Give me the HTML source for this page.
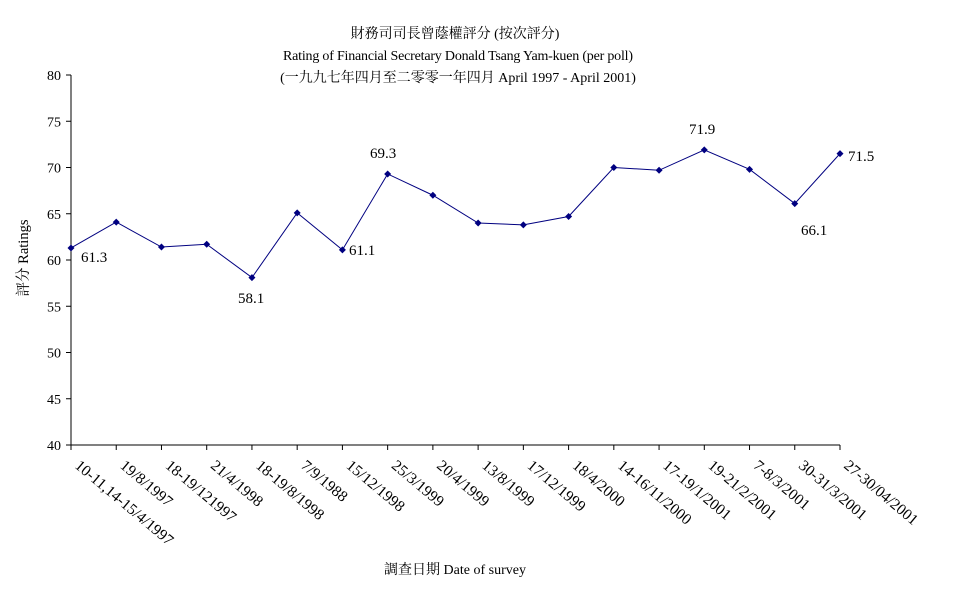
<!DOCTYPE html>
<html><head><meta charset="utf-8"><style>body{margin:0;background:#fff}</style></head><body>
<svg width="977" height="600" xmlns="http://www.w3.org/2000/svg" font-family="'Liberation Serif','Noto Serif CJK SC',serif" font-size="14">
<rect width="977" height="600" fill="#fff"/>
<text x="455" y="38" text-anchor="middle">財務司司長曾蔭權評分 (按次評分)</text>
<text x="458" y="60" text-anchor="middle" textLength="350">Rating of Financial Secretary Donald Tsang Yam-kuen  (per poll)</text>
<text x="458" y="82" text-anchor="middle">(一九九七年四月至二零零一年四月 April 1997 - April 2001)</text>
<g stroke="#000" stroke-width="1" fill="none">
<line x1="71" y1="75" x2="71" y2="445"/>
<line x1="71" y1="445" x2="840" y2="445"/>
</g>
<g id="yt" font-size="14" text-anchor="end"></g>
<g id="xt"></g>
<polyline id="ln" fill="none" stroke="#000080" stroke-width="1"/>
<g id="pts" fill="#000080"></g>
<g font-size="15">
<text x="81" y="262">61.3</text>
<text x="238" y="303">58.1</text>
<text x="349" y="255">61.1</text>
<text x="370" y="158">69.3</text>
<text x="689" y="134">71.9</text>
<text x="801" y="235">66.1</text>
<text x="848" y="161">71.5</text>
</g>
<text transform="translate(28,258) rotate(-90)" text-anchor="middle" font-size="14.5">評分 Ratings</text>
<text x="455" y="574" text-anchor="middle">調查日期 Date of survey</text>
<script>
var ns="http://www.w3.org/2000/svg";
var v=[61.3,64.1,61.4,61.7,58.1,65.1,61.1,69.3,67.0,64.0,63.8,64.7,70.0,69.7,71.9,69.8,66.1,71.5];
var lab=["10-11,14-15/4/1997","19/8/1997","18-19/121997","21/4/1998","18-19/8/1998","7/9/1988","15/12/1998","25/3/1999","20/4/1999","13/8/1999","17/12/1999","18/4/2000","14-16/11/2000","17-19/1/2001","19-21/2/2001","7-8/3/2001","30-31/3/2001","27-30/04/2001"];
function Y(a){return 445-(a-40)*9.25}
function X(i){return 71+i*769/17}
var yt=document.getElementById('yt'),xt=document.getElementById('xt');
for(var k=40;k<=80;k+=5){var y=Y(k);
var l=document.createElementNS(ns,'line');l.setAttribute('x1',66);l.setAttribute('x2',71);l.setAttribute('y1',y);l.setAttribute('y2',y);l.setAttribute('stroke','#000');yt.appendChild(l);
var t=document.createElementNS(ns,'text');t.setAttribute('x',61);t.setAttribute('y',y+5);t.textContent=k;yt.appendChild(t);}
var pts=[];
for(var i=0;i<18;i++){var x=X(i),y=Y(v[i]);pts.push(x+','+y);
var l=document.createElementNS(ns,'line');l.setAttribute('x1',x);l.setAttribute('x2',x);l.setAttribute('y1',445);l.setAttribute('y2',450);l.setAttribute('stroke','#000');xt.appendChild(l);
var t=document.createElementNS(ns,'text');t.setAttribute('transform','translate('+(x+3)+',467) rotate(40)');t.setAttribute('font-size','15.5');t.textContent=lab[i];xt.appendChild(t);
var p=document.createElementNS(ns,'polygon');p.setAttribute('points',x+','+(y-3.5)+' '+(x+3.5)+','+y+' '+x+','+(y+3.5)+' '+(x-3.5)+','+y);document.getElementById('pts').appendChild(p);}
document.getElementById('ln').setAttribute('points',pts.join(' '));
</script>
</svg>
</body></html>
